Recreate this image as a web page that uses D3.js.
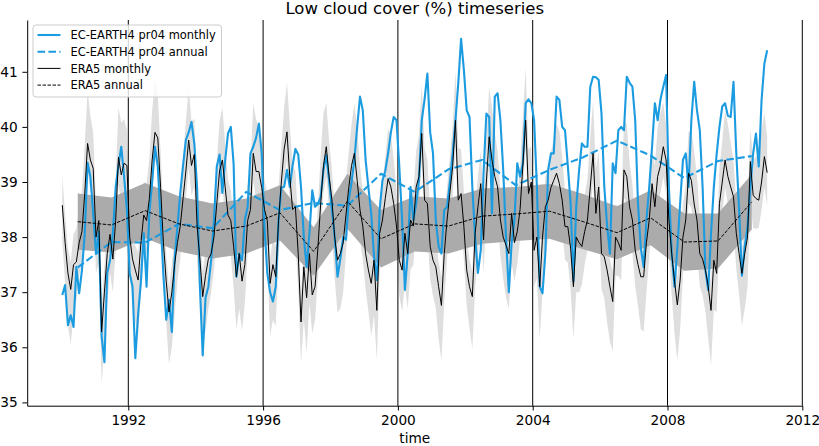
<!DOCTYPE html>
<html>
<head>
<meta charset="utf-8">
<script src="https://cdn.jsdelivr.net/npm/d3@7"></script>
<style>
  body { margin: 0; background: #fff; }
  svg { font-family: "DejaVu Sans", sans-serif; }
</style>
</head>
<body>
<svg id="chart" width="819" height="446"></svg>
<script>
'use strict';

// Monthly values, one row per year (Jan..Dec), 1990-2010
const ecMonthly = [
    36.95, 37.13, 36.40, 36.58, 36.37, 37.46, 36.98, 37.40, 38.07, 39.35, 39.10, 38.43,
    37.70, 38.10, 36.20, 35.73, 37.35, 37.58, 38.07, 38.90, 39.30, 39.64, 39.10, 38.50,
    37.34, 37.10, 35.80, 36.60, 37.20, 38.07, 37.10, 38.45, 39.00, 39.64, 39.28, 38.31,
    37.30, 36.50, 36.86, 36.28, 37.60, 38.19, 38.80, 39.30, 39.76, 39.90, 40.09, 39.70,
    38.90, 37.10, 35.85, 36.90, 37.10, 37.58, 38.31, 39.28, 39.50, 38.80, 39.40, 39.88,
    40.00, 39.33, 37.28, 37.70, 37.58, 38.31, 38.55, 39.52, 39.64, 39.80, 40.06, 39.52,
    38.19, 37.34, 37.00, 36.83, 37.10, 38.30, 38.90, 38.91, 39.22, 38.91, 39.30, 39.60,
    39.50, 38.91, 38.00, 37.46, 38.07, 38.85, 38.55, 38.60, 38.73, 39.22, 39.49, 39.03,
    38.50, 38.00, 37.28, 37.60, 38.00, 37.95, 38.67, 39.00, 39.40, 40.00, 40.55, 40.30,
    39.40, 38.90, 38.43, 37.64, 37.22, 38.50, 39.03, 39.20, 39.52, 39.90, 40.18, 40.12,
    39.28, 38.31, 37.04, 37.70, 38.91, 38.31, 38.60, 39.03, 40.12, 40.50, 40.97, 39.90,
    39.52, 38.31, 37.83, 37.70, 38.49, 38.55, 39.00, 39.52, 40.12, 40.80, 41.60, 41.03,
    40.30, 40.18, 38.91, 38.00, 37.35, 37.76, 39.16, 40.24, 40.18, 38.43, 40.55, 40.61,
    40.12, 39.22, 38.00, 37.00, 37.90, 38.31, 39.34, 39.10, 39.34, 40.43, 40.50, 40.43,
    40.12, 38.91, 37.10, 36.98, 37.70, 39.22, 39.52, 39.52, 40.55, 40.49, 40.00, 39.94,
    39.30, 38.61, 37.20, 38.55, 39.20, 39.70, 39.64, 39.64, 40.73, 40.91, 40.90, 40.85,
    40.24, 38.91, 38.20, 37.70, 39.34, 39.16, 39.94, 40.00, 39.94, 40.91, 40.80, 40.73,
    40.12, 38.61, 37.80, 37.46, 38.31, 38.91, 39.64, 40.43, 40.12, 40.50, 40.73, 40.94,
    38.91, 37.70, 37.10, 37.80, 38.61, 39.40, 39.52, 38.91, 40.12, 40.82, 40.30, 39.94,
    38.91, 37.40, 37.04, 38.07, 38.91, 39.50, 40.00, 40.37, 40.43, 40.20, 40.18, 40.82,
    39.52, 38.50, 37.30, 37.83, 38.19, 38.91, 39.52, 39.88, 39.28, 40.49, 41.15, 41.39
];

const era5Monthly = [
    38.58, 37.90, 37.35, 37.05, 37.50, 37.55, 37.90, 38.10, 38.80, 39.70, 39.40, 39.25,
    38.00, 38.30, 36.28, 37.00, 37.70, 38.05, 37.60, 38.30, 39.45, 39.13, 39.34, 39.30,
    38.00, 37.60, 37.40, 37.22, 37.90, 38.40, 38.30, 38.70, 39.40, 39.90, 39.80, 38.90,
    37.90, 37.20, 36.64, 37.00, 37.50, 37.90, 38.20, 38.70, 39.20, 39.76, 39.30, 39.50,
    38.20, 37.60, 36.92, 37.30, 37.60, 37.70, 38.00, 38.60, 39.20, 39.40, 38.90, 38.40,
    38.30, 37.83, 37.28, 37.70, 37.20, 37.50, 38.30, 38.50, 39.52, 39.19, 39.19, 38.90,
    38.50, 38.30, 37.16, 37.50, 37.28, 38.30, 39.00, 39.60, 39.91, 39.10, 38.50, 38.55,
    37.70, 36.46, 37.46, 36.90, 37.70, 36.95, 37.10, 37.80, 38.60, 39.30, 39.64, 39.10,
    38.68, 38.00, 37.58, 37.70, 37.89, 38.40, 38.90, 39.30, 39.52, 39.03, 38.49, 38.20,
    37.70, 37.40, 37.16, 37.58, 36.67, 38.07, 38.31, 38.70, 39.06, 38.91, 38.61, 38.20,
    37.58, 37.40, 38.07, 37.70, 38.31, 38.20, 38.91, 39.10, 39.88, 38.67, 38.61, 37.83,
    37.58, 37.46, 37.10, 36.76, 37.70, 38.31, 38.80, 39.28, 40.12, 38.67, 38.79, 38.19,
    37.40, 37.10, 36.92, 38.07, 38.55, 38.97, 37.95, 39.00, 39.82, 39.40, 39.10, 38.91,
    38.31, 38.00, 37.85, 37.70, 38.43, 37.90, 38.10, 38.50, 39.30, 40.12, 38.79, 39.00,
    37.76, 38.00, 37.10, 38.00, 38.55, 38.67, 38.90, 39.03, 39.16, 38.97, 38.67, 38.19,
    38.19, 37.80, 37.10, 38.00, 37.90, 37.83, 38.10, 38.31, 38.91, 39.52, 38.43, 38.91,
    37.70, 37.64, 37.40, 37.10, 36.83, 38.00, 37.90, 37.76, 39.22, 39.10, 38.55, 38.31,
    37.76, 37.50, 37.28, 37.28, 37.90, 38.31, 38.97, 38.55, 39.10, 39.30, 39.64, 39.40,
    38.31, 37.70, 37.20, 36.77, 37.22, 38.00, 38.31, 39.16, 39.03, 38.60, 38.31, 37.70,
    37.60, 37.40, 37.10, 36.67, 37.58, 37.34, 38.61, 39.00, 39.40, 39.10, 38.91, 38.73,
    38.07, 37.70, 37.34, 37.70, 38.00, 39.37, 38.76, 38.70, 38.67, 39.00, 39.46, 39.17
];

// Annual means, 1990-2010, plotted at mid-year
const ecAnnual = [37.45, 37.91, 37.90, 38.24, 38.16, 38.82, 38.49, 38.62, 38.57, 39.15, 38.82,
                  39.23, 39.40, 38.94, 39.22, 39.45, 39.75, 39.48, 39.07, 39.38, 39.47];
const era5Annual = [38.28, 38.22, 38.48, 38.24, 38.11, 38.20, 38.44, 37.74, 38.65, 37.97, 38.24,
                    38.20, 38.38, 38.42, 38.47, 38.28, 38.08, 38.35, 37.91, 37.93, 38.64];

// ERA5 monthly spread by calendar month (above / below)
const spreadUp   = [0.55, 0.50, 0.45, 0.50, 0.55, 0.60, 0.65, 0.75, 0.90, 0.95, 0.80, 0.65];
const spreadDown = [0.65, 0.75, 0.95, 1.00, 0.90, 0.70, 0.60, 0.55, 0.50, 0.50, 0.55, 0.60];
// ERA5 annual spread, one per year
const annualSpread = [0.51, 0.50, 0.50, 0.50, 0.50, 0.50, 0.50, 0.44, 0.50, 0.52, 0.50,
                      0.50, 0.50, 0.49, 0.50, 0.50, 0.48, 0.50, 0.52, 0.50, 0.50];

const firstYear = 1990;
const xTicks = [1992, 1996, 2000, 2004, 2008, 2012];
const yTicks = [35, 36, 37, 38, 39, 40, 41];

const legendItems = [
    { label: 'EC-EARTH4 pr04 monthly', color: '#1b9be0', width: 2.1, dash: null },
    { label: 'EC-EARTH4 pr04 annual', color: '#1b9be0', width: 2.1, dash: '7.6,3.3' },
    { label: 'ERA5 monthly', color: '#000', width: 1, dash: null },
    { label: 'ERA5 annual', color: '#000', width: 1, dash: '3.5,1.5' }
];

(function() {
    const svg = d3.select('#chart');
    const left = 27.2, right = 802.3, top = 20, bottom = 405.7;

    const x = d3.scaleLinear().domain([1989, 2012]).range([left, right]);
    const y = d3.scaleLinear().domain([34.94, 41.94]).range([bottom, top]);

    // monthly records
    const months = era5Monthly.map(function(v, i) {
        return { t: firstYear + (i + 0.5) / 12, m: i % 12, era: v, ec: ecMonthly[i] };
    });
    const years = era5Annual.map(function(v, i) {
        return { t: firstYear + i + 0.5, era: v, ec: ecAnnual[i], s: annualSpread[i] };
    });

    // Light band
    svg.append('path')
        .datum(months)
        .attr('fill', '#dedede')
        .attr('d', d3.area()
            .x(function(d) { return x(d.t); })
            .y0(function(d) { return y(d.era - spreadDown[d.m]); })
            .y1(function(d) { return y(d.era + spreadUp[d.m]); }));

    // Dark band
    svg.append('path')
        .datum(years)
        .attr('fill', '#ababab')
        .attr('d', d3.area()
            .x(function(d) { return x(d.t); })
            .y0(function(d) { return y(d.era - d.s); })
            .y1(function(d) { return y(d.era + d.s); }));

    // Vertical grid lines
    svg.append('g').selectAll('line')
        .data(xTicks)
        .enter().append('line')
            .attr('x1', function(d) { return x(d); })
            .attr('x2', function(d) { return x(d); })
            .attr('y1', top)
            .attr('y2', bottom)
            .attr('stroke', '#000')
            .attr('stroke-width', 1);

    function addLine(data, key, color, width, dash) {
        const p = svg.append('path')
            .datum(data)
            .attr('fill', 'none')
            .attr('stroke', color)
            .attr('stroke-width', width)
            .attr('stroke-linejoin', 'round')
            .attr('d', d3.line()
                .x(function(d) { return x(d.t); })
                .y(function(d) { return y(d[key]); }));
        if (dash) p.attr('stroke-dasharray', dash);
    }

    addLine(months, 'ec', legendItems[0].color, legendItems[0].width, null);
    addLine(years, 'ec', legendItems[1].color, legendItems[1].width, legendItems[1].dash);
    addLine(months, 'era', legendItems[2].color, legendItems[2].width, null);
    addLine(years, 'era', legendItems[3].color, legendItems[3].width, legendItems[3].dash);

    // Axes
    const xAxis = svg.append('g')
        .attr('transform', 'translate(0,' + bottom + ')')
        .call(d3.axisBottom(x).tickValues(xTicks).tickFormat(d3.format('d'))
            .tickSize(4.8).tickPadding(4.8).tickSizeOuter(0));
    const yAxis = svg.append('g')
        .attr('transform', 'translate(' + left + ',0)')
        .call(d3.axisLeft(y).tickValues(yTicks).tickFormat(d3.format('d'))
            .tickSize(4.8).tickPadding(4.8).tickSizeOuter(0));
    [xAxis, yAxis].forEach(function(a) {
        a.selectAll('text').attr('font-size', '13.7px').attr('font-family', 'DejaVu Sans').attr('fill', '#000');
        a.selectAll('line').attr('stroke', '#000').attr('stroke-width', 1);
        a.select('.domain').attr('stroke', '#000').attr('stroke-width', 1);
    });

    // Title and axis label
    svg.append('text')
        .attr('x', (left + right) / 2)
        .attr('y', 14)
        .attr('text-anchor', 'middle')
        .attr('font-size', '16.5px')
        .text('Low cloud cover (%) timeseries');

    svg.append('text')
        .attr('x', (left + right) / 2)
        .attr('y', 443)
        .attr('text-anchor', 'middle')
        .attr('font-size', '13.7px')
        .text('time');

    // Legend
    const lg = svg.append('g');
    lg.append('rect')
        .attr('x', 33).attr('y', 25)
        .attr('width', 188.5).attr('height', 72)
        .attr('rx', 3)
        .attr('fill', '#fff').attr('fill-opacity', 0.8)
        .attr('stroke', '#cccccc').attr('stroke-width', 1);

    legendItems.forEach(function(item, i) {
        const cy = 35 + i * 16.7;
        const ln = lg.append('line')
            .attr('x1', 37.5).attr('x2', 60.5)
            .attr('y1', cy).attr('y2', cy)
            .attr('stroke', item.color)
            .attr('stroke-width', item.width);
        if (item.dash) ln.attr('stroke-dasharray', item.dash);
        lg.append('text')
            .attr('x', 70.5)
            .attr('y', cy)
            .attr('dy', '0.36em')
            .attr('font-size', '11.45px')
            .text(item.label);
    });
})();
</script>
</body>
</html>
